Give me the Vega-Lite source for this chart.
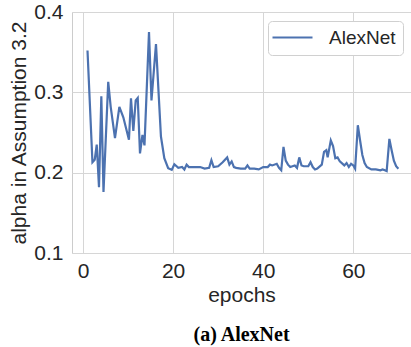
{
  "$schema": "https://vega.github.io/schema/vega-lite/v6.json",
  "width": 339,
  "height": 241,
  "autosize": {"type": "none"},
  "padding": {"left": 72, "top": 12, "right": 0, "bottom": 94},
  "background": "white",
  "config": {
    "view": {"stroke": "#cccccc", "strokeWidth": 1},
    "font": "Liberation Sans"
  },
  "title": {
    "text": "(a) AlexNet",
    "orient": "bottom",
    "anchor": "middle",
    "font": "Liberation Serif",
    "fontWeight": "bold",
    "fontSize": 20,
    "color": "#000000",
    "offset": 20
  },
  "data": {
    "values": [
      {"epoch": 1.0, "alpha": 0.352, "model": "AlexNet"},
      {"epoch": 2.1, "alpha": 0.213, "model": "AlexNet"},
      {"epoch": 2.6, "alpha": 0.216, "model": "AlexNet"},
      {"epoch": 3.05, "alpha": 0.235, "model": "AlexNet"},
      {"epoch": 3.55, "alpha": 0.182, "model": "AlexNet"},
      {"epoch": 4.07, "alpha": 0.295, "model": "AlexNet"},
      {"epoch": 4.55, "alpha": 0.176, "model": "AlexNet"},
      {"epoch": 5.6, "alpha": 0.313, "model": "AlexNet"},
      {"epoch": 6.15, "alpha": 0.282, "model": "AlexNet"},
      {"epoch": 7.1, "alpha": 0.243, "model": "AlexNet"},
      {"epoch": 8.07, "alpha": 0.282, "model": "AlexNet"},
      {"epoch": 8.95, "alpha": 0.269, "model": "AlexNet"},
      {"epoch": 10.2, "alpha": 0.241, "model": "AlexNet"},
      {"epoch": 10.65, "alpha": 0.2925, "model": "AlexNet"},
      {"epoch": 11.17, "alpha": 0.252, "model": "AlexNet"},
      {"epoch": 11.7, "alpha": 0.29, "model": "AlexNet"},
      {"epoch": 12.15, "alpha": 0.293, "model": "AlexNet"},
      {"epoch": 12.65, "alpha": 0.224, "model": "AlexNet"},
      {"epoch": 13.2, "alpha": 0.247, "model": "AlexNet"},
      {"epoch": 13.65, "alpha": 0.234, "model": "AlexNet"},
      {"epoch": 14.65, "alpha": 0.375, "model": "AlexNet"},
      {"epoch": 15.2, "alpha": 0.29, "model": "AlexNet"},
      {"epoch": 16.2, "alpha": 0.36, "model": "AlexNet"},
      {"epoch": 17.3, "alpha": 0.245, "model": "AlexNet"},
      {"epoch": 18.05, "alpha": 0.218, "model": "AlexNet"},
      {"epoch": 18.9, "alpha": 0.2055, "model": "AlexNet"},
      {"epoch": 19.7, "alpha": 0.2035, "model": "AlexNet"},
      {"epoch": 20.27, "alpha": 0.2105, "model": "AlexNet"},
      {"epoch": 21.15, "alpha": 0.206, "model": "AlexNet"},
      {"epoch": 22, "alpha": 0.207, "model": "AlexNet"},
      {"epoch": 22.5, "alpha": 0.204, "model": "AlexNet"},
      {"epoch": 23, "alpha": 0.21, "model": "AlexNet"},
      {"epoch": 23.5, "alpha": 0.207, "model": "AlexNet"},
      {"epoch": 24, "alpha": 0.207, "model": "AlexNet"},
      {"epoch": 25, "alpha": 0.207, "model": "AlexNet"},
      {"epoch": 26, "alpha": 0.207, "model": "AlexNet"},
      {"epoch": 27, "alpha": 0.205, "model": "AlexNet"},
      {"epoch": 28, "alpha": 0.206, "model": "AlexNet"},
      {"epoch": 28.5, "alpha": 0.2155, "model": "AlexNet"},
      {"epoch": 29, "alpha": 0.207, "model": "AlexNet"},
      {"epoch": 30, "alpha": 0.208, "model": "AlexNet"},
      {"epoch": 31, "alpha": 0.213, "model": "AlexNet"},
      {"epoch": 32, "alpha": 0.219, "model": "AlexNet"},
      {"epoch": 32.5, "alpha": 0.21, "model": "AlexNet"},
      {"epoch": 33, "alpha": 0.214, "model": "AlexNet"},
      {"epoch": 33.5, "alpha": 0.207, "model": "AlexNet"},
      {"epoch": 34, "alpha": 0.206, "model": "AlexNet"},
      {"epoch": 35, "alpha": 0.205, "model": "AlexNet"},
      {"epoch": 36, "alpha": 0.205, "model": "AlexNet"},
      {"epoch": 36.5, "alpha": 0.209, "model": "AlexNet"},
      {"epoch": 37, "alpha": 0.205, "model": "AlexNet"},
      {"epoch": 38, "alpha": 0.205, "model": "AlexNet"},
      {"epoch": 39, "alpha": 0.204, "model": "AlexNet"},
      {"epoch": 40, "alpha": 0.207, "model": "AlexNet"},
      {"epoch": 41, "alpha": 0.207, "model": "AlexNet"},
      {"epoch": 41.5, "alpha": 0.21, "model": "AlexNet"},
      {"epoch": 42, "alpha": 0.209, "model": "AlexNet"},
      {"epoch": 43, "alpha": 0.211, "model": "AlexNet"},
      {"epoch": 43.5, "alpha": 0.206, "model": "AlexNet"},
      {"epoch": 44, "alpha": 0.203, "model": "AlexNet"},
      {"epoch": 44.5, "alpha": 0.232, "model": "AlexNet"},
      {"epoch": 45, "alpha": 0.215, "model": "AlexNet"},
      {"epoch": 45.5, "alpha": 0.21, "model": "AlexNet"},
      {"epoch": 46, "alpha": 0.207, "model": "AlexNet"},
      {"epoch": 47, "alpha": 0.209, "model": "AlexNet"},
      {"epoch": 47.5, "alpha": 0.206, "model": "AlexNet"},
      {"epoch": 48, "alpha": 0.219, "model": "AlexNet"},
      {"epoch": 48.5, "alpha": 0.209, "model": "AlexNet"},
      {"epoch": 49, "alpha": 0.208, "model": "AlexNet"},
      {"epoch": 50, "alpha": 0.208, "model": "AlexNet"},
      {"epoch": 50.5, "alpha": 0.213, "model": "AlexNet"},
      {"epoch": 51, "alpha": 0.207, "model": "AlexNet"},
      {"epoch": 51.5, "alpha": 0.204, "model": "AlexNet"},
      {"epoch": 52, "alpha": 0.205, "model": "AlexNet"},
      {"epoch": 53, "alpha": 0.21, "model": "AlexNet"},
      {"epoch": 53.5, "alpha": 0.226, "model": "AlexNet"},
      {"epoch": 54, "alpha": 0.228, "model": "AlexNet"},
      {"epoch": 54.3, "alpha": 0.219, "model": "AlexNet"},
      {"epoch": 55, "alpha": 0.24, "model": "AlexNet"},
      {"epoch": 55.5, "alpha": 0.233, "model": "AlexNet"},
      {"epoch": 56, "alpha": 0.218, "model": "AlexNet"},
      {"epoch": 56.5, "alpha": 0.219, "model": "AlexNet"},
      {"epoch": 57, "alpha": 0.214, "model": "AlexNet"},
      {"epoch": 58, "alpha": 0.209, "model": "AlexNet"},
      {"epoch": 58.5, "alpha": 0.212, "model": "AlexNet"},
      {"epoch": 59, "alpha": 0.207, "model": "AlexNet"},
      {"epoch": 59.5, "alpha": 0.211, "model": "AlexNet"},
      {"epoch": 60, "alpha": 0.209, "model": "AlexNet"},
      {"epoch": 60.4, "alpha": 0.205, "model": "AlexNet"},
      {"epoch": 61, "alpha": 0.259, "model": "AlexNet"},
      {"epoch": 61.5, "alpha": 0.24, "model": "AlexNet"},
      {"epoch": 62, "alpha": 0.222, "model": "AlexNet"},
      {"epoch": 62.5, "alpha": 0.212, "model": "AlexNet"},
      {"epoch": 63, "alpha": 0.207, "model": "AlexNet"},
      {"epoch": 64, "alpha": 0.204, "model": "AlexNet"},
      {"epoch": 65, "alpha": 0.204, "model": "AlexNet"},
      {"epoch": 66, "alpha": 0.203, "model": "AlexNet"},
      {"epoch": 66.5, "alpha": 0.204, "model": "AlexNet"},
      {"epoch": 67, "alpha": 0.203, "model": "AlexNet"},
      {"epoch": 67.4, "alpha": 0.202, "model": "AlexNet"},
      {"epoch": 68, "alpha": 0.242, "model": "AlexNet"},
      {"epoch": 68.5, "alpha": 0.228, "model": "AlexNet"},
      {"epoch": 69, "alpha": 0.215, "model": "AlexNet"},
      {"epoch": 69.5, "alpha": 0.208, "model": "AlexNet"},
      {"epoch": 70, "alpha": 0.205, "model": "AlexNet"}
    ]
  },
  "mark": {"type": "line", "strokeWidth": 2.2, "clip": true},
  "encoding": {
    "x": {
      "field": "epoch",
      "type": "quantitative",
      "scale": {"domain": [-2.44, 72.8], "nice": false, "zero": false},
      "axis": {
        "title": "epochs",
        "values": [0, 20, 40, 60],
        "grid": true,
        "gridColor": "#d6d6d6",
        "gridWidth": 1,
        "domain": false,
        "ticks": false,
        "labelFontSize": 21,
        "labelColor": "#262626",
        "labelPadding": 7,
        "titleFontSize": 21,
        "titleFontWeight": "normal",
        "titleColor": "#262626",
        "titlePadding": 3
      }
    },
    "y": {
      "field": "alpha",
      "type": "quantitative",
      "scale": {"domain": [0.1, 0.4], "nice": false, "zero": false},
      "axis": {
        "title": "alpha in Assumption 3.2",
        "values": [0.1, 0.2, 0.3, 0.4],
        "format": ".1f",
        "grid": true,
        "gridColor": "#d6d6d6",
        "gridWidth": 1,
        "domain": false,
        "ticks": false,
        "labelFontSize": 21,
        "labelColor": "#262626",
        "labelPadding": 9,
        "titleFontSize": 21,
        "titleFontWeight": "normal",
        "titleColor": "#262626",
        "titlePadding": 4
      }
    },
    "color": {
      "field": "model",
      "type": "nominal",
      "scale": {"range": ["#4C72B0"]},
      "legend": {
        "title": null,
        "orient": "none",
        "legendX": 196,
        "legendY": 9,
        "symbolType": "M-4,0H4",
        "symbolSize": 100,
        "symbolStrokeWidth": 2.2,
        "symbolOffset": 8,
        "labelOffset": 27,
        "labelFontSize": 19,
        "labelFont": "Liberation Sans",
        "labelColor": "#262626",
        "strokeColor": "#d0d0d0",
        "fillColor": "#ffffff",
        "cornerRadius": 4,
        "padding": 7
      }
    }
  }
}
